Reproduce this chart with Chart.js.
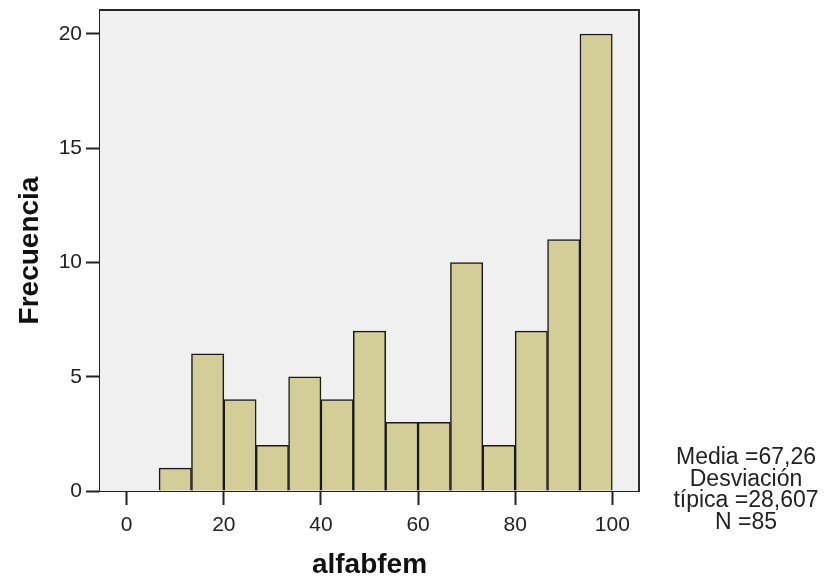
<!DOCTYPE html>
<html>
<head>
<meta charset="utf-8">
<script src="https://cdn.jsdelivr.net/npm/chart.js@4"></script>
<style>
  html, body { margin: 0; padding: 0; background: #ffffff; }
  #wrap { position: relative; width: 825px; height: 580px; }
  #stats {
    position: absolute; left: 656px; top: 446px; width: 180px;
    font-family: "Liberation Sans", Arial, sans-serif; font-size: 23px;
    line-height: 21.5px; color: #222; text-align: center; white-space: pre;
  }
</style>
</head>
<body>
<div id="wrap">
  <canvas id="c" width="825" height="580"></canvas>
  <div id="stats"></div>
</div>
<script>
// Histogram of alfabfem (bin centres, bin width 100/15)
const binCenters = [10, 16.67, 23.33, 30, 36.67, 43.33, 50, 56.67, 63.33, 70, 76.67, 83.33, 90, 96.67];
const frequencies = [1, 6, 4, 2, 5, 4, 7, 3, 3, 10, 2, 7, 11, 20];
const xTicks = [0, 20, 40, 60, 80, 100];
const yTicks = [0, 5, 10, 15, 20];
const xTitle = 'alfabfem';
const yTitle = 'Frecuencia';
const statsLines = ['Media =67,26', 'Desviación', 'típica =28,607', 'N =85'];

document.getElementById('stats').textContent = statsLines.join('\n');

const frameBg = {
  id: 'frameBg',
  beforeDatasetsDraw(chart) {
    const {ctx, chartArea: a} = chart;
    ctx.save();
    ctx.fillStyle = '#F0F0F0';
    ctx.fillRect(a.left, a.top, a.right - a.left, a.bottom - a.top);
    ctx.restore();
  },
  afterDatasetsDraw(chart) {
    const {ctx, chartArea: a} = chart;
    ctx.save();
    ctx.strokeStyle = '#2a2a2a';
    ctx.lineWidth = 2;
    ctx.beginPath();
    ctx.moveTo(a.left, a.top);
    ctx.lineTo(a.right, a.top);
    ctx.lineTo(a.right, a.bottom);
    ctx.stroke();
    ctx.restore();
  }
};

const tickFont = { family: '"Liberation Sans", Arial, sans-serif', size: 21 };
const titleFont = { family: '"Liberation Sans", Arial, sans-serif', size: 28, weight: 'bold', lineHeight: '30px' };

new Chart(document.getElementById('c'), {
  type: 'bar',
  data: {
    datasets: [{
      data: binCenters.map((x, i) => ({ x: x, y: frequencies[i] })),
      backgroundColor: '#D3CE97',
      borderColor: '#1a1a1a',
      borderWidth: 1.5,
      barPercentage: 1,
      categoryPercentage: 1
    }]
  },
  options: {
    responsive: false,
    animation: false,
    devicePixelRatio: 1,
    layout: { padding: { top: 10, right: 186, left: 0, bottom: 0 } },
    plugins: { legend: { display: false }, tooltip: { enabled: false } },
    scales: {
      x: {
        type: 'linear',
        min: -5.5, max: 105.5,
        offset: false,
        afterBuildTicks: s => { s.ticks = xTicks.map(v => ({ value: v })); },
        afterFit: s => { s.height = 89; s.paddingLeft = 0; s.paddingRight = 0; },
        grid: { display: true, offset: false, drawOnChartArea: false, drawTicks: true, tickLength: 14, tickColor: '#222', tickWidth: 2 },
        border: { display: true, color: '#222', width: 2 },
        ticks: { font: tickFont, color: '#222', padding: 8, maxRotation: 0, autoSkip: false },
        title: { display: true, text: xTitle, font: titleFont, color: '#111', padding: 0 }
      },
      y: {
        type: 'linear',
        min: 0, max: 21.05,
        afterBuildTicks: s => { s.ticks = yTicks.map(v => ({ value: v })); },
        afterFit: s => { s.width = 100; s.paddingTop = 0; s.paddingBottom = 0; },
        grid: { display: true, drawOnChartArea: false, drawTicks: true, tickLength: 14, tickColor: '#222', tickWidth: 2 },
        border: { display: true, color: '#222', width: 2 },
        ticks: { font: tickFont, color: '#222', padding: 4, autoSkip: false },
        title: { display: true, text: yTitle, font: titleFont, color: '#111', padding: 15 }
      }
    }
  },
  plugins: [frameBg]
});
</script>
</body>
</html>
